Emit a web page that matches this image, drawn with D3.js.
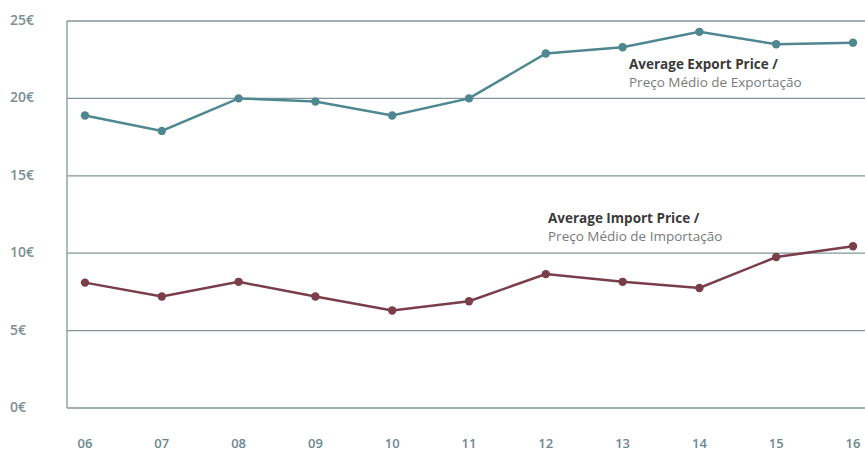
<!DOCTYPE html>
<html>
<head>
<meta charset="utf-8">
<script src="https://cdn.jsdelivr.net/npm/d3@7"></script>
<style>
  body { margin: 0; background: #fff; }
  svg { display: block; font-family: "Open Sans", "DejaVu Sans", sans-serif; }
</style>
</head>
<body>
<svg id="grafico" width="865" height="452"></svg>
<script>
// dati
var anni = ["06", "07", "08", "09", "10", "11", "12", "13", "14", "15", "16"];
var prezzoExport = [18.9, 17.9, 20.0, 19.8, 18.9, 20.0, 22.9, 23.3, 24.3, 23.5, 23.6];
var prezzoImport = [8.1, 7.2, 8.15, 7.2, 6.3, 6.9, 8.65, 8.15, 7.75, 9.75, 10.45];
var tickY = [0, 5, 10, 15, 20, 25];

var svg = d3.select("#grafico");

var x = d3.scalePoint()
    .domain(anni)
    .range([85, 853]);

var y = d3.scaleLinear()
    .domain([0, 25])
    .range([408, 21]);

// griglia orizzontale
svg.append("g")
    .selectAll("line")
    .data(tickY)
    .enter()
    .append("line")
    .attr("x1", 67)
    .attr("x2", 865)
    .attr("y1", d => y(d))
    .attr("y2", d => y(d))
    .attr("stroke", "#7f979b")
    .attr("stroke-width", 1.3);

// asse verticale
svg.append("line")
    .attr("x1", 67)
    .attr("x2", 67)
    .attr("y1", y(25))
    .attr("y2", y(0))
    .attr("stroke", "#7f979b")
    .attr("stroke-width", 1.3);

// etichette asse y
svg.append("g")
    .selectAll("text")
    .data(tickY)
    .enter()
    .append("text")
    .attr("x", 10)
    .attr("y", d => y(d) - 1)
    .attr("dy", "0.35em")
    .style("font-size", "14px")
    .style("font-weight", "600")
    .attr("fill", "#7d8f8f")
    .text(d => d + "€");

// etichette asse x
svg.append("g")
    .selectAll("text")
    .data(anni)
    .enter()
    .append("text")
    .attr("x", d => x(d))
    .attr("y", 443)
    .attr("dy", "0.35em")
    .style("text-anchor", "middle")
    .style("font-size", "13px")
    .style("font-weight", "600")
    .attr("fill", "#6d8790")
    .text(d => d);

function disegnaSerie(valori, colore){

    var linea = d3.line()
        .x((d, i) => x(anni[i]))
        .y(d => y(d));

    svg.append("path")
        .datum(valori)
        .attr("d", linea)
        .attr("fill", "none")
        .attr("stroke", colore)
        .attr("stroke-width", 2.5);

    svg.append("g")
        .selectAll("circle")
        .data(valori)
        .enter()
        .append("circle")
        .attr("cx", (d, i) => x(anni[i]))
        .attr("cy", d => y(d))
        .attr("r", 4.2)
        .attr("fill", colore);
}

disegnaSerie(prezzoExport, "#4f8790");
disegnaSerie(prezzoImport, "#7a3d4a");

// annotazioni
function etichetta(px, py, titolo, sottotitolo){

    svg.append("text")
        .attr("x", px)
        .attr("y", py)
        .style("font-size", "13.5px")
        .style("font-weight", "700")
        .attr("fill", "#3a3a3a")
        .text(titolo);

    svg.append("text")
        .attr("x", px)
        .attr("y", py + 18)
        .style("font-size", "13.5px")
        .attr("fill", "#7a7a7a")
        .text(sottotitolo);
}

etichetta(629, 69, "Average Export Price /", "Preço Médio de Exportação");
etichetta(548, 223, "Average Import Price /", "Preço Médio de Importação");
</script>
</body>
</html>
